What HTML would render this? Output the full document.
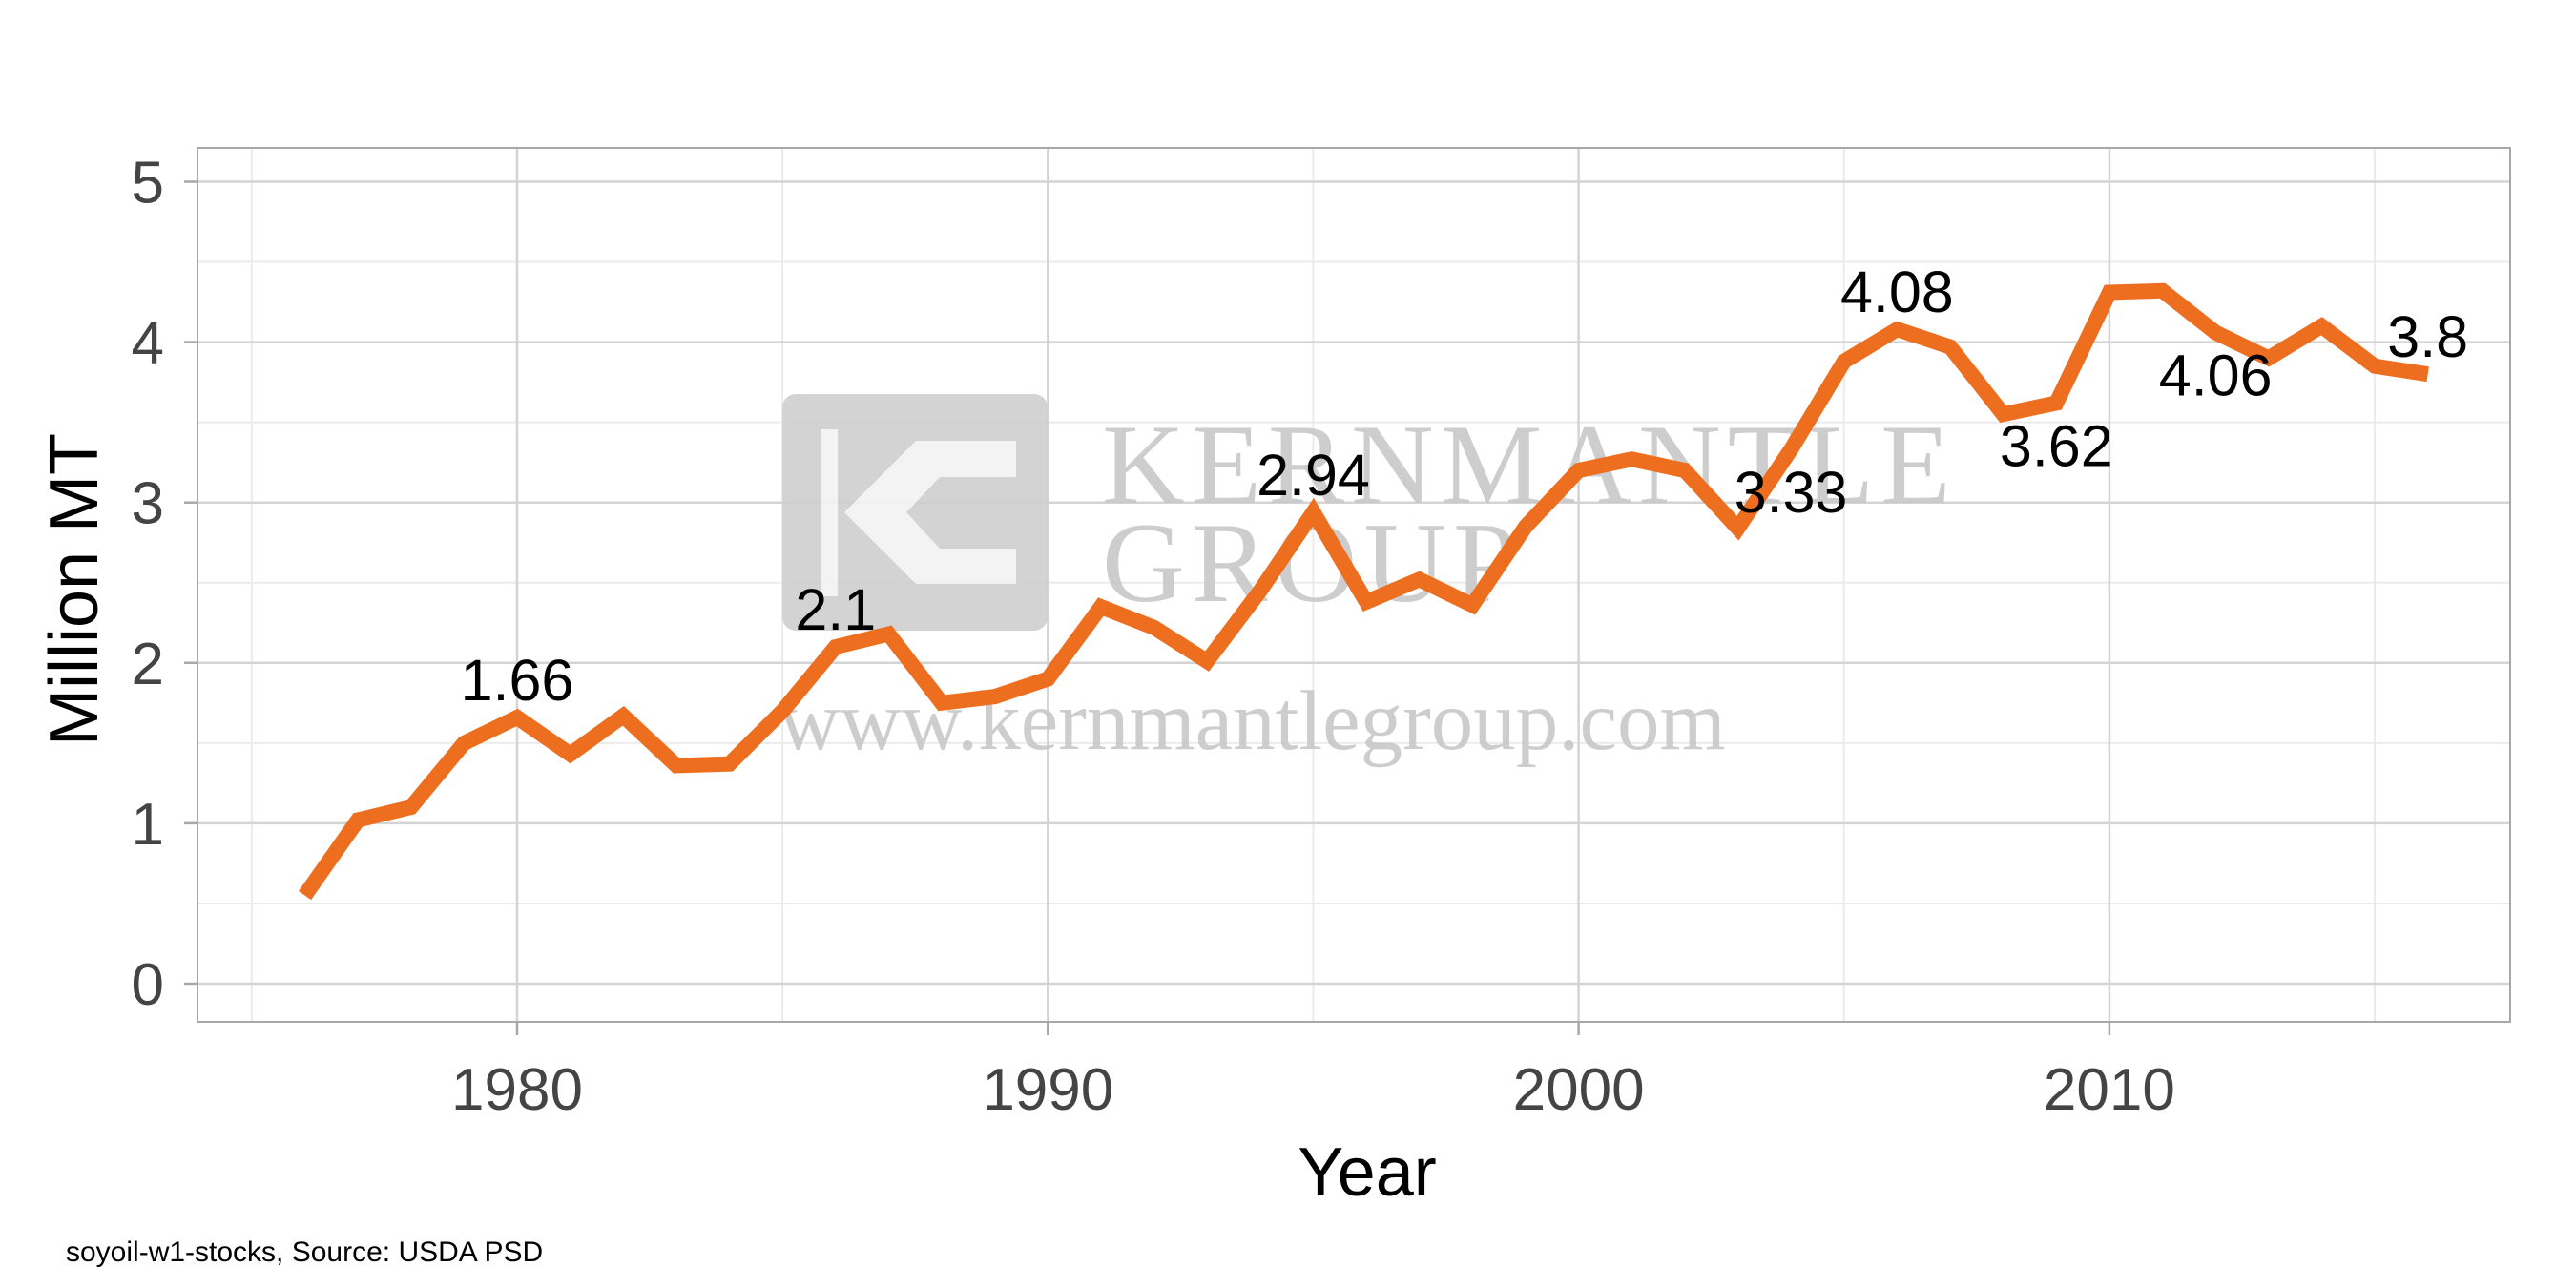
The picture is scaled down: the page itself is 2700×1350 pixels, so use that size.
<!DOCTYPE html>
<html><head><meta charset="utf-8"><style>
html,body{margin:0;padding:0;background:#fff;}
svg{display:block;font-family:"Liberation Sans",sans-serif;}
</style></head><body>
<svg id="chart" width="2700" height="1350" viewBox="0 0 2700 1350" xmlns="http://www.w3.org/2000/svg">
<g id="grid"></g>
<g id="watermark" opacity="0.9">
  <rect x="820" y="413" width="278" height="248" rx="14" fill="#cfcfcf"/>
  <path d="M860 450 L878 450 L878 625 L860 625 Z M885 537 L960 462 L1065 462 L1065 500 L985 500 L950 537 L985 575 L1065 575 L1065 612 L960 612 Z" fill="#f2f2f2"/>
  <text x="1155" y="527" font-family="Liberation Serif,serif" font-size="120" fill="#c8c8c8" letter-spacing="7">KERNMANTLE</text>
  <text x="1155" y="630" font-family="Liberation Serif,serif" font-size="120" fill="#c8c8c8" letter-spacing="7">GROUP</text>
  <text x="816" y="785" font-family="Liberation Serif,serif" font-size="89" fill="#c8c8c8">www.kernmantlegroup.com</text>
</g>
<rect x="207" y="155" width="2424" height="916" fill="none" stroke="#a8a8a8" stroke-width="2"/>
<g id="axes"></g>
<path id="line" fill="none" stroke="#EE6E1F" stroke-width="16" stroke-linejoin="miter"/>
<g id="labels"></g>
<text x="1433" y="1253" text-anchor="middle" font-size="72" fill="#000">Year</text>
<text transform="translate(102,618) rotate(-90)" text-anchor="middle" font-size="72" fill="#000">Million MT</text>
<text x="69" y="1322" font-size="30" fill="#000">soyoil-w1-stocks, Source: USDA PSD</text>
</svg>
<script>
const years = [1976,1977,1978,1979,1980,1981,1982,1983,1984,1985,1986,1987,1988,1989,1990,1991,1992,1993,1994,1995,1996,1997,1998,1999,2000,2001,2002,2003,2004,2005,2006,2007,2008,2009,2010,2011,2012,2013,2014,2015,2016];
const stocks = [0.55,1.02,1.1,1.5,1.66,1.43,1.67,1.36,1.37,1.7,2.1,2.18,1.75,1.79,1.9,2.35,2.22,2.01,2.45,2.94,2.38,2.52,2.36,2.85,3.2,3.27,3.2,2.84,3.33,3.88,4.08,3.97,3.55,3.62,4.31,4.32,4.06,3.9,4.1,3.85,3.8];
const labelYears = [1980,1986,1995,2004,2006,2009,2012,2016];
const labelTexts = ["1.66","2.1","2.94","3.33","4.08","3.62","4.06","3.8"];
const labelBelow = [false,false,false,true,false,true,true,false];
const xTicks = [1980,1990,2000,2010];
const xMinor = [1975,1985,1995,2005,2015];
const yTicks = [0,1,2,3,4,5];
const yMinor = [0.5,1.5,2.5,3.5,4.5];

const NS="http://www.w3.org/2000/svg";
const X0=207,X1=2631,Y0=155,Y1=1071;
const xs = v => 542 + (v-1980)*55.63;
const ys = v => 1031 - v*168.1;
function mk(tag,attrs,parent){const e=document.createElementNS(NS,tag);for(const k in attrs)e.setAttribute(k,attrs[k]);parent.appendChild(e);return e;}
const grid=document.getElementById('grid'), axes=document.getElementById('axes');
yMinor.forEach(v=>{const l=mk('line',{x1:X0,x2:X1,y1:ys(v),y2:ys(v),stroke:'#ebebeb','stroke-width':2},grid);

});
xMinor.forEach(v=>{const l=mk('line',{x1:xs(v),x2:xs(v),y1:Y0,y2:Y1,stroke:'#ebebeb','stroke-width':2},grid);

});
yTicks.forEach(v=>{const l=mk('line',{x1:X0,x2:X1,y1:ys(v),y2:ys(v),stroke:'#d4d4d4','stroke-width':2.5},grid);


const t=mk('line',{x1:X0-14,x2:X0,y1:ys(v),y2:ys(v),stroke:'#a8a8a8','stroke-width':2.5},axes);


const tx=mk('text',{x:172,y:ys(v)+22,'text-anchor':'end','font-size':62,fill:'#444'},axes);tx.textContent=v;

});
xTicks.forEach(v=>{const l=mk('line',{x1:xs(v),x2:xs(v),y1:Y0,y2:Y1,stroke:'#d4d4d4','stroke-width':2.5},grid);


const t=mk('line',{x1:xs(v),x2:xs(v),y1:Y1,y2:Y1+14,stroke:'#a8a8a8','stroke-width':2.5},axes);


const tx=mk('text',{x:xs(v),y:1163,'text-anchor':'middle','font-size':62,fill:'#444'},axes);tx.textContent=v;

});
document.getElementById('line').setAttribute('d',years.map((y,i)=>(i?'L':'M')+xs(y).toFixed(1)+' '+ys(stocks[i]).toFixed(1)).join(' '));
const lg=document.getElementById('labels');
labelYears.forEach((y,i)=>{const v=stocks[years.indexOf(y)];
const cy=ys(v)+(labelBelow[i]?44:-40);
const t=mk('text',{x:xs(y),y:cy+22,'text-anchor':'middle','font-size':61,fill:'#000'},lg);t.textContent=labelTexts[i];

});
</script>
</body></html>
